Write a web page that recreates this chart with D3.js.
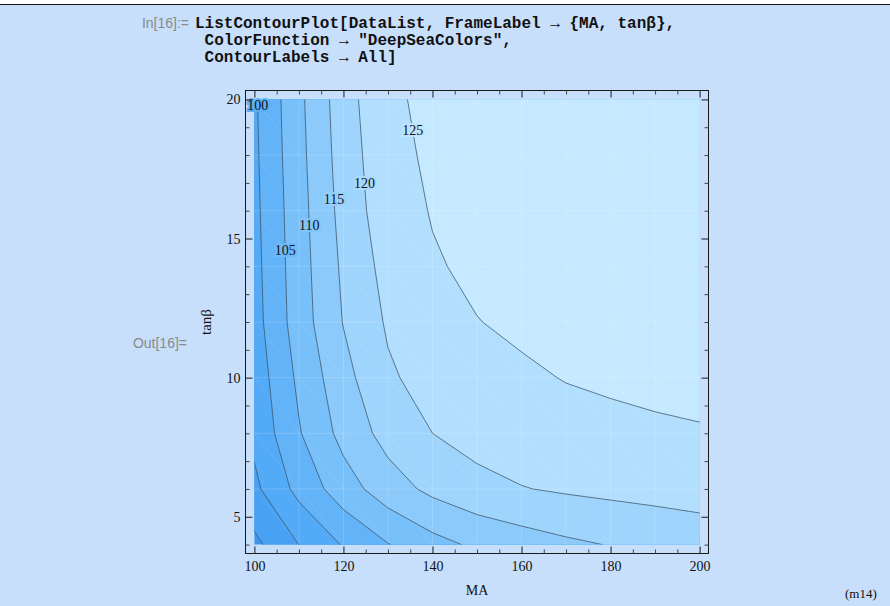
<!DOCTYPE html>
<html>
<head>
<meta charset="utf-8">
<script src="https://cdn.jsdelivr.net/npm/d3@7"></script>
<style>
html, body { margin: 0; padding: 0; background: #c8dffc; }
svg { display: block; }
.code { font-family: "Liberation Mono", "Courier New", monospace; font-weight: bold; font-size: 16px; fill: #111; }
.prompt { font-family: "Liberation Sans", Arial, sans-serif; font-size: 14px; fill: #8a8a8a; }
.serif { font-family: "Liberation Serif", "Times New Roman", serif; font-size: 14px; fill: #111; }
</style>
</head>
<body>
<svg id="chart" width="890" height="606"></svg>
<script>
// grid of the DataList: MA columns, tan(beta) rows
var maGrid = [100, 110, 120, 130, 140, 150, 160, 170, 180, 190, 200];
var tanbGrid = [4, 6, 8, 10, 12, 14, 16, 18, 20];

// values, one row per tan(beta)
var mh_tb4  = [88.8, 95.05, 100.4, 104.8, 108.3, 110.9, 112.6, 114.1, 115.2, 116.4, 117.5];
var mh_tb6  = [93.9, 101.5, 107.7, 112.7, 116.2, 118.5, 119.8, 120.6, 121.2, 121.6, 121.9];
var mh_tb8  = [96.2, 104.6, 111.6, 116.8, 120.0, 121.8, 122.9, 123.6, 124.0, 124.4, 124.7];
var mh_tb10 = [97.1, 106.0, 113.4, 119.3, 121.9, 123.3, 124.4, 125.15, 125.6, 125.95, 126.2];
var mh_tb12 = [98.1, 107.5, 115.2, 120.6, 123.6, 124.9, 125.7, 126.2, 126.5, 126.7, 126.8];
var mh_tb14 = [98.46, 107.8, 115.9, 121.76, 124.6, 125.8, 126.3, 126.6, 126.9, 127.1, 127.2];
var mh_tb16 = [98.77, 108.1, 116.7, 123.05, 125.24, 126.2, 126.7, 127.0, 127.2, 127.3, 127.4];
var mh_tb18 = [99.06, 108.5, 117.3, 123.6, 125.75, 126.5, 127.0, 127.3, 127.5, 127.6, 127.6];
var mh_tb20 = [99.34, 108.84, 117.8, 124.3, 125.9, 126.7, 127.2, 127.5, 127.7, 127.8, 127.9];

var levels = [90, 95, 100, 105, 110, 115, 120, 125];
var labelLevels = [100, 105, 110, 115, 120, 125];
var labelTanb = [19.8, 14.6, 15.5, 16.4, 17.0, 18.9];

var xMajor = [100, 120, 140, 160, 180, 200];
var yMajor = [5, 10, 15, 20];

var codeLines = [
  "ListContourPlot[DataList, FrameLabel \u2192 {MA, tan\u03b2},",
  " ColorFunction \u2192 \"DeepSeaColors\",",
  " ContourLabels \u2192 All]"
];

// DeepSeaColors, light end (band below 90 first)
var bandColors = ["#4195ee", "#48a1f2", "#53aaf6", "#63b3f8", "#77c0fa",
                  "#8bcafb", "#9fd5fd", "#b2dffe", "#c5eaff"];

var svg = d3.select("#chart");

// notebook chrome
svg.append("rect").attr("x", 0).attr("y", 0).attr("width", 890).attr("height", 4).attr("fill", "#fff");
svg.append("line").attr("x1", 0).attr("x2", 890).attr("y1", 4.5).attr("y2", 4.5).attr("stroke", "#111");

svg.append("text").attr("class", "prompt").attr("x", 189).attr("y", 28).attr("text-anchor", "end").text("In[16]:=");
svg.selectAll("text.code").data(codeLines).enter().append("text")
  .attr("class", "code")
  .attr("x", 195)
  .attr("y", function(d, i) { return 28 + i * 17; })
  .attr("xml:space", "preserve")
  .style("white-space", "pre")
  .text(function(d) { return d; });

svg.append("text").attr("class", "prompt").attr("x", 187).attr("y", 348).attr("text-anchor", "end").text("Out[16]=");
svg.append("text").attr("class", "serif").attr("x", 845).attr("y", 598).style("font-size", "13px").text("(m14)");

// frame & scales (2% padding like Mathematica)
var fLeft = 245.5, fRight = 708.5, fTop = 90.5, fBottom = 553.5;
var padX = (maGrid[maGrid.length - 1] - maGrid[0]) * 0.02;
var padY = (tanbGrid[tanbGrid.length - 1] - tanbGrid[0]) * 0.02;
var x = d3.scaleLinear().domain([maGrid[0] - padX, maGrid[maGrid.length - 1] + padX]).range([fLeft, fRight]);
var y = d3.scaleLinear().domain([tanbGrid[0] - padY, tanbGrid[tanbGrid.length - 1] + padY]).range([fBottom, fTop]);

var x0 = x(maGrid[0]), x1 = x(maGrid[maGrid.length - 1]);
var y0 = y(tanbGrid[tanbGrid.length - 1]), y1 = y(tanbGrid[0]);

svg.append("clipPath").attr("id", "dataclip").append("rect")
  .attr("x", x0).attr("y", y0).attr("width", x1 - x0).attr("height", y1 - y0);

var plot = svg.append("g").attr("clip-path", "url(#dataclip)");

// contours
var nx = maGrid.length, ny = tanbGrid.length;
var rows = [mh_tb4, mh_tb6, mh_tb8, mh_tb10, mh_tb12, mh_tb14, mh_tb16, mh_tb18, mh_tb20];
var values = [];
rows.forEach(function(r) { values = values.concat(r); });

var gx = d3.scaleLinear().domain(d3.range(nx).map(function(i) { return i + 0.5; })).range(maGrid);
var gy = d3.scaleLinear().domain(d3.range(ny).map(function(i) { return i + 0.5; })).range(tanbGrid);

var contours = d3.contours().size([nx, ny]).thresholds(levels)(values);
var proj = d3.geoTransform({
  point: function(px, py) { this.stream.point(x(gx(px)), y(gy(py))); }
});
var path = d3.geoPath(proj);

plot.append("rect").attr("x", x0 - 2).attr("y", y0 - 2).attr("width", x1 - x0 + 4).attr("height", y1 - y0 + 4)
  .attr("fill", bandColors[0]);

plot.selectAll("path.band").data(contours).enter().append("path")
  .attr("class", "band")
  .attr("d", path)
  .attr("fill", function(d, i) { return bandColors[i + 1]; });

// faint triangulation mesh
var mesh = plot.append("g").attr("stroke", "#fff").attr("stroke-opacity", 0.16).attr("fill", "none");
maGrid.slice(1, -1).forEach(function(m) {
  mesh.append("line").attr("x1", x(m)).attr("x2", x(m)).attr("y1", y0).attr("y2", y1);
});
tanbGrid.slice(1, -1).forEach(function(t) {
  mesh.append("line").attr("x1", x0).attr("x2", x1).attr("y1", y(t)).attr("y2", y(t));
});
for (var i = 0; i < nx - 1; i++) {
  for (var j = 0; j < ny - 1; j++) {
    mesh.append("line")
      .attr("x1", x(maGrid[i])).attr("y1", y(tanbGrid[j + 1]))
      .attr("x2", x(maGrid[i + 1])).attr("y2", y(tanbGrid[j]))
      .attr("stroke-opacity", 0.1);
  }
}

plot.selectAll("path.cline").data(contours).enter().append("path")
  .attr("class", "cline")
  .attr("d", path)
  .attr("fill", "none")
  .attr("stroke", "#3f5164")
  .attr("stroke-opacity", 0.75)
  .attr("stroke-width", 1);

// contour labels: put each on its line at the given tan(beta)
function pointOnContour(level, tb) {
  var c = contours[levels.indexOf(level)];
  var best = null;
  c.coordinates.forEach(function(poly) {
    poly.forEach(function(ring) {
      for (var k = 0; k < ring.length - 1; k++) {
        var a = [gx(ring[k][0]), gy(ring[k][1])];
        var b = [gx(ring[k + 1][0]), gy(ring[k + 1][1])];
        if ((a[1] - tb) * (b[1] - tb) > 0 || a[1] === b[1]) continue;
        var m = a[0] + (b[0] - a[0]) * (tb - a[1]) / (b[1] - a[1]);
        if (m > maGrid[0] + 0.01 && m < maGrid[nx - 1] - 0.01 && !best) best = [m, tb];
      }
    });
  });
  return best;
}

labelLevels.forEach(function(lv, i) {
  var p = pointOnContour(lv, labelTanb[i]);
  if (!p) return;
  var bi = levels.indexOf(lv);
  var halo = d3.interpolateRgb(bandColors[bi], bandColors[bi + 1])(0.5);
  svg.append("text").attr("class", "serif")
    .attr("x", x(p[0])).attr("y", y(p[1]))
    .attr("dy", "0.35em")
    .attr("text-anchor", "middle")
    .attr("stroke", halo).attr("stroke-width", 4).attr("paint-order", "stroke")
    .text(lv);
});

// frame with inward ticks
svg.append("rect").attr("x", fLeft).attr("y", fTop).attr("width", fRight - fLeft).attr("height", fBottom - fTop)
  .attr("fill", "none").attr("stroke", "#1a1a1a");

var xMinor = d3.range(maGrid[0], maGrid[nx - 1] + 1, 5).filter(function(v) { return xMajor.indexOf(v) < 0; });
var yMinor = d3.range(tanbGrid[0], tanbGrid[ny - 1] + 1, 1).filter(function(v) { return yMajor.indexOf(v) < 0; });

function addAxis(axis, tx, ty, color) {
  var g = svg.append("g").attr("transform", "translate(" + tx + "," + ty + ")").call(axis);
  g.select(".domain").remove();
  g.selectAll("line").attr("stroke", color);
  g.selectAll("text").attr("class", "serif").attr("fill", "#111");
  return g;
}

addAxis(d3.axisBottom(x).tickValues(xMajor).tickSizeInner(-7).tickSizeOuter(0).tickPadding(8), 0, fBottom, "#1a1a1a");
addAxis(d3.axisBottom(x).tickValues(xMinor).tickSizeInner(-4).tickSizeOuter(0).tickFormat(""), 0, fBottom, "#444");
addAxis(d3.axisTop(x).tickValues(xMajor).tickSizeInner(-7).tickSizeOuter(0).tickFormat(""), 0, fTop, "#1a1a1a");
addAxis(d3.axisTop(x).tickValues(xMinor).tickSizeInner(-4).tickSizeOuter(0).tickFormat(""), 0, fTop, "#444");
addAxis(d3.axisLeft(y).tickValues(yMajor).tickSizeInner(-7).tickSizeOuter(0).tickPadding(5), fLeft, 0, "#1a1a1a");
addAxis(d3.axisLeft(y).tickValues(yMinor).tickSizeInner(-4).tickSizeOuter(0).tickFormat(""), fLeft, 0, "#444");
addAxis(d3.axisRight(y).tickValues(yMajor).tickSizeInner(-7).tickSizeOuter(0).tickFormat(""), fRight, 0, "#1a1a1a");
addAxis(d3.axisRight(y).tickValues(yMinor).tickSizeInner(-4).tickSizeOuter(0).tickFormat(""), fRight, 0, "#444");

// frame labels
svg.append("text").attr("class", "serif")
  .attr("x", (x0 + x1) / 2).attr("y", 595).attr("text-anchor", "middle").text("MA");
svg.append("text").attr("class", "serif")
  .attr("transform", "translate(211," + ((y0 + y1) / 2) + ") rotate(-90)")
  .attr("text-anchor", "middle").style("font-size", "15px").text("tan\u03b2");
</script>
</body>
</html>
